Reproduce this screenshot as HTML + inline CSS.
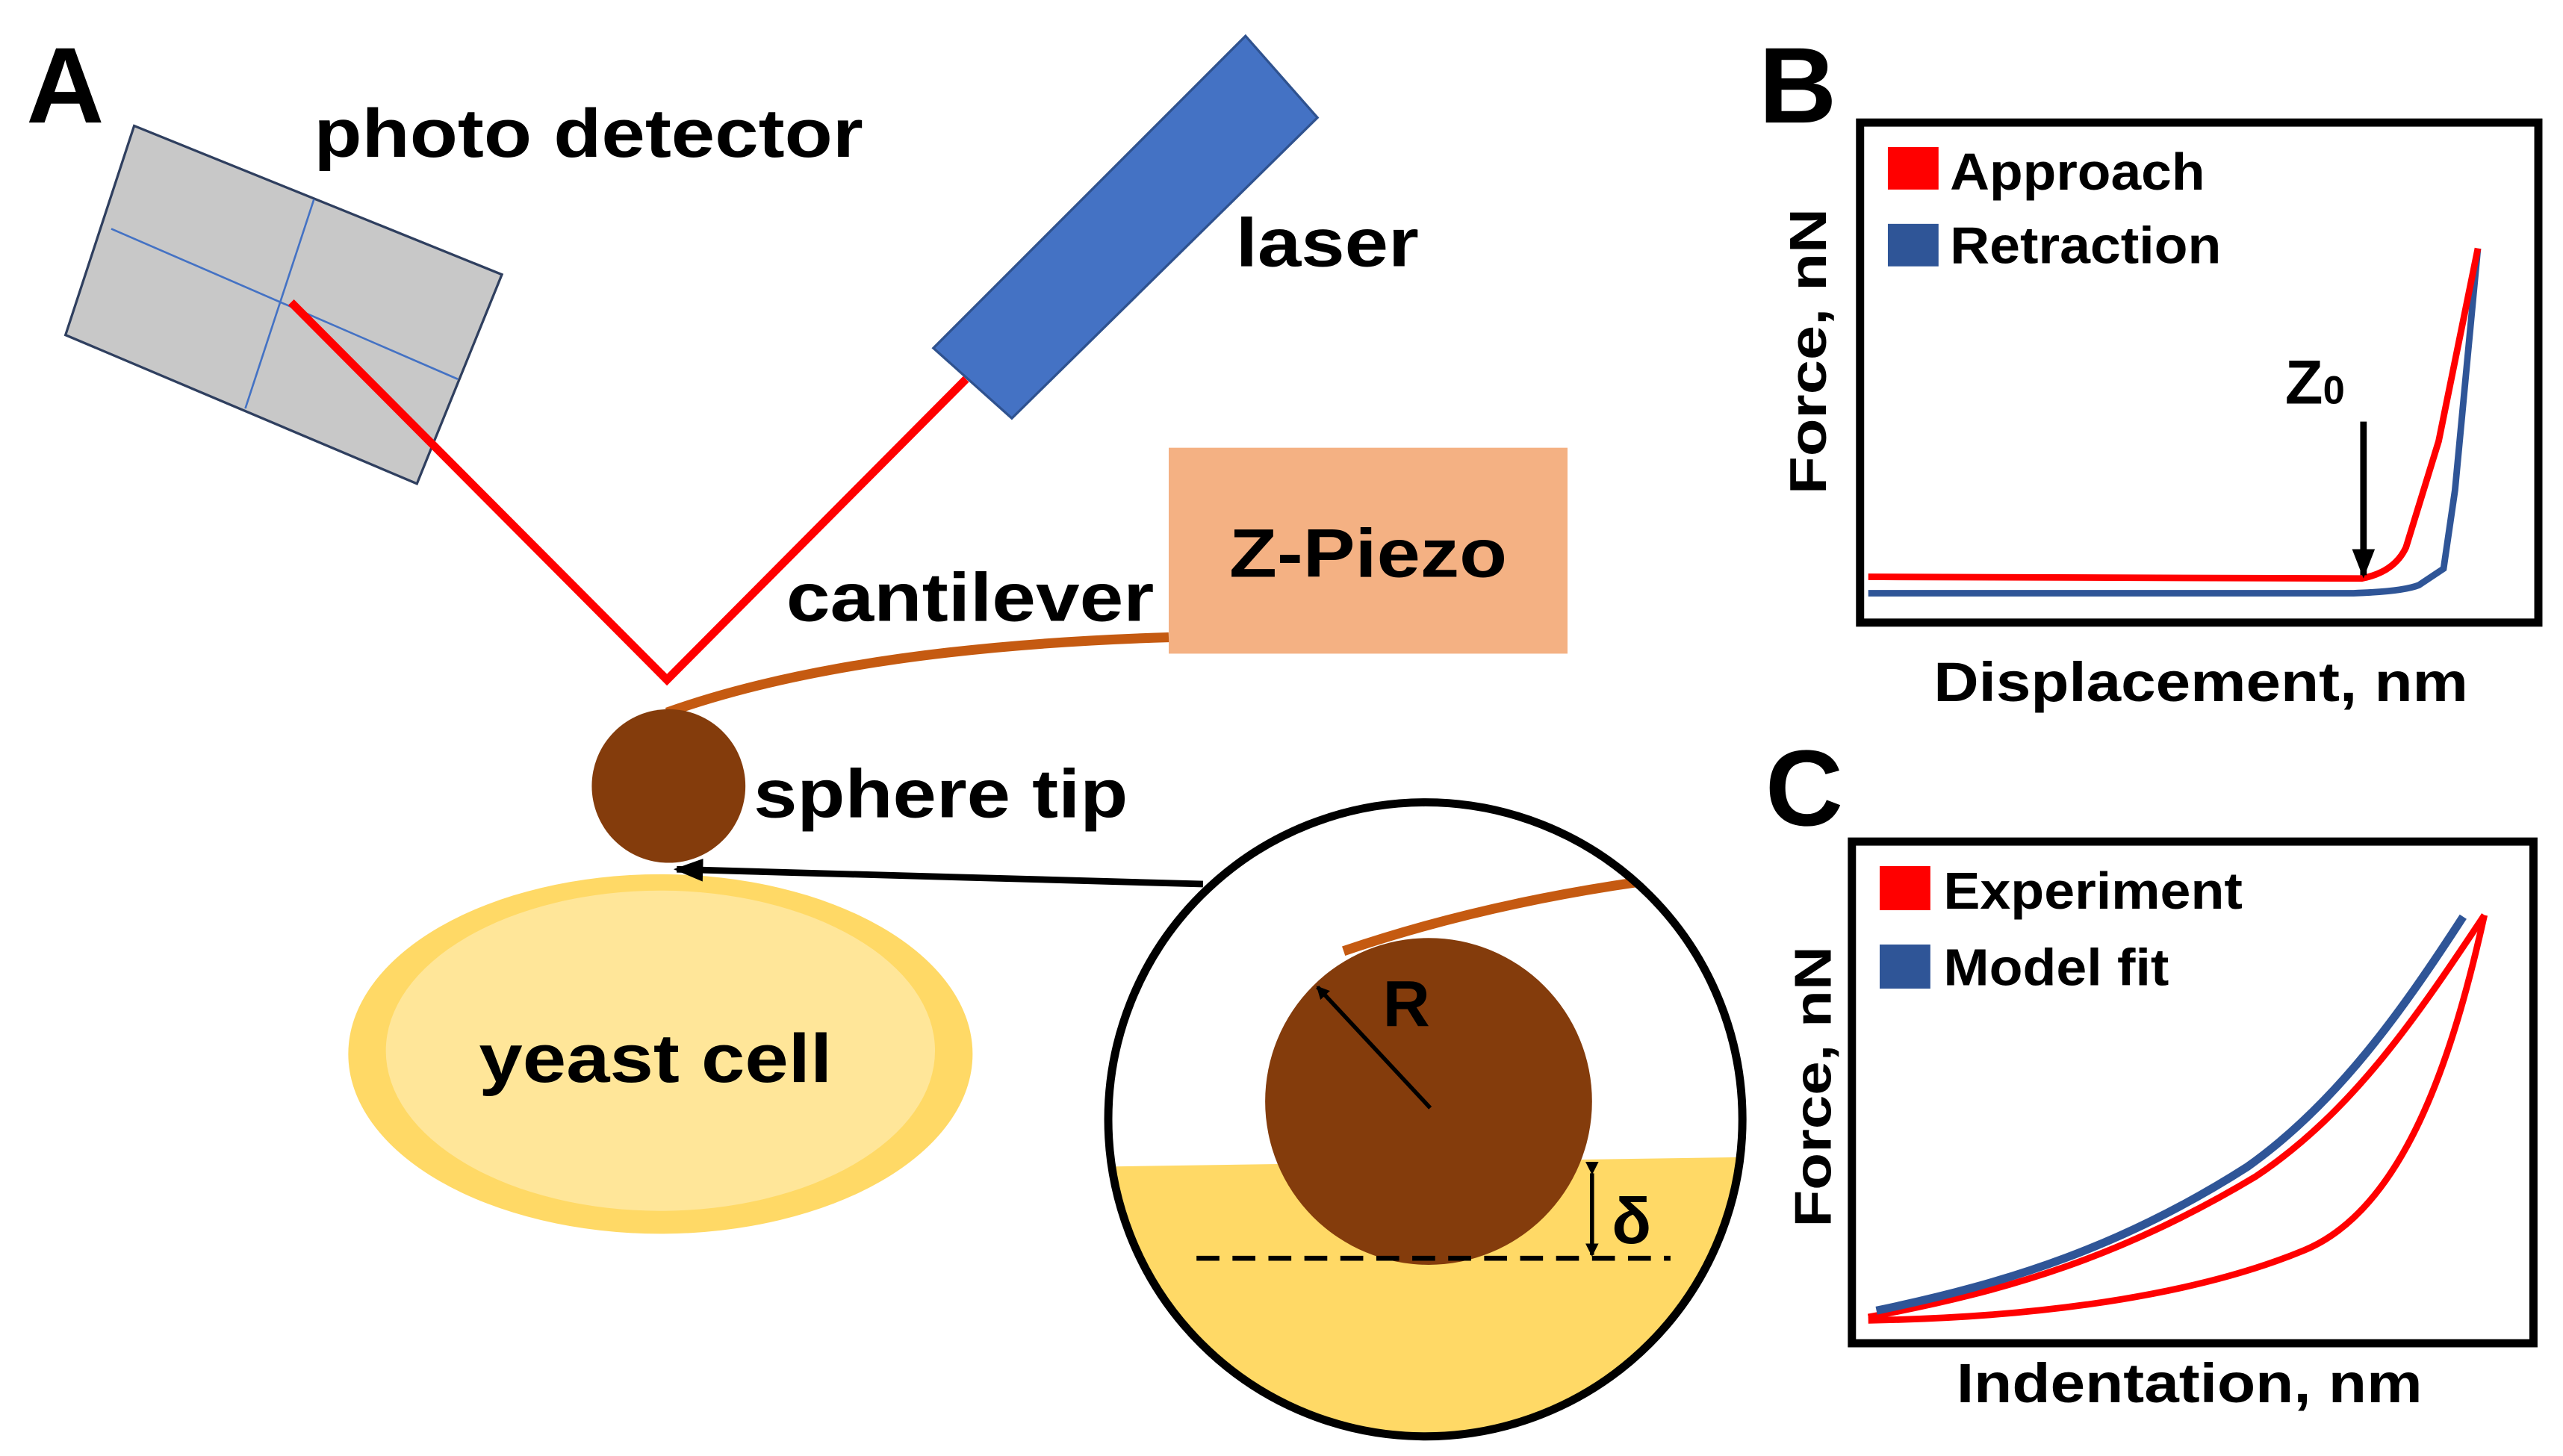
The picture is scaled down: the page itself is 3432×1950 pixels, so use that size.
<!DOCTYPE html>
<html><head><meta charset="utf-8"><style>
html,body{margin:0;padding:0;background:#fff;}
svg{display:block;}
text{font-family:"Liberation Sans",Arial,sans-serif;font-weight:bold;fill:#000;}
</style></head><body>
<svg width="3432" height="1950" viewBox="0 0 1568 891" xmlns="http://www.w3.org/2000/svg">
<defs>
<marker id="ah2" markerWidth="18" markerHeight="14" refX="16" refY="7" orient="auto" markerUnits="userSpaceOnUse"><path d="M0,0 L18,7 L0,14 z" fill="#000"/></marker>
<marker id="ahs" markerWidth="8" markerHeight="8" refX="7" refY="4" orient="auto" markerUnits="userSpaceOnUse"><path d="M0,0 L8,4 L0,8 z" fill="#000"/></marker>
<clipPath id="cc"><circle cx="872" cy="685" r="193"/></clipPath>
</defs>
<text x="16" y="75" font-size="66">A</text>
<polygon points="82,77 307,168 255,296 40,205" fill="#C8C8C8" stroke="#2F3F5F" stroke-width="1.5"/>
<line x1="68" y1="140" x2="280" y2="232" stroke="#4472C4" stroke-width="1.2"/>
<line x1="192" y1="122" x2="150" y2="250" stroke="#4472C4" stroke-width="1.2"/>
<text x="192" y="96" font-size="42" textLength="336" lengthAdjust="spacingAndGlyphs">photo detector</text>
<polygon points="762,22 806,72 619,256 571,213" fill="#4472C4" stroke="#2F528F" stroke-width="1.5"/>
<text x="756" y="163" font-size="42" textLength="112" lengthAdjust="spacingAndGlyphs">laser</text>
<polyline points="178,185 408,416 591,232" fill="none" stroke="#FF0000" stroke-width="5"/>
<rect x="715" y="274" width="244" height="126" fill="#F4B183"/>
<text x="752" y="353" font-size="42" textLength="170" lengthAdjust="spacingAndGlyphs">Z-Piezo</text>
<text x="481" y="380" font-size="42" textLength="225" lengthAdjust="spacingAndGlyphs">cantilever</text>
<path d="M408,436 Q520,396 715,390" fill="none" stroke="#C55A11" stroke-width="6"/>
<circle cx="409" cy="481" r="47" fill="#843C0C"/>
<text x="461" y="500" font-size="42" textLength="229" lengthAdjust="spacingAndGlyphs">sphere tip</text>
<ellipse cx="404" cy="645" rx="191" ry="110" fill="#FFD966"/>
<ellipse cx="404" cy="643" rx="168" ry="98" fill="#FFE699"/>
<text x="293" y="662" font-size="42" textLength="216" lengthAdjust="spacingAndGlyphs">yeast cell</text>
<line x1="736" y1="541" x2="414" y2="532" stroke="#000" stroke-width="4" marker-end="url(#ah2)"/>
<g clip-path="url(#cc)">
<polygon points="670,714 1075,708 1075,900 670,900" fill="#FFD966"/>
<path d="M822,582 Q910,552 1015,538" fill="none" stroke="#C55A11" stroke-width="6"/>
<circle cx="874" cy="674" r="100" fill="#843C0C"/>
</g>
<circle cx="872" cy="685" r="194" fill="none" stroke="#000" stroke-width="5"/>
<line x1="875" y1="678" x2="806" y2="604" stroke="#000" stroke-width="2.5" marker-end="url(#ahs)"/>
<text x="846" y="628" font-size="40">R</text>
<line x1="732" y1="770" x2="1022" y2="770" stroke="#000" stroke-width="3" stroke-dasharray="14,8"/>
<line x1="974" y1="718" x2="974" y2="768" stroke="#000" stroke-width="2.5" marker-start="url(#ahs)" marker-end="url(#ahs)"/>
<text x="986" y="761" font-size="40">δ</text>
<text x="1076" y="75" font-size="66">B</text>
<rect x="1138" y="75" width="415" height="306" fill="none" stroke="#000" stroke-width="5"/>
<rect x="1155" y="90" width="31" height="26" fill="#FF0000"/>
<rect x="1155" y="137" width="31" height="26" fill="#2F5597"/>
<text x="1193" y="116" font-size="32" textLength="156" lengthAdjust="spacingAndGlyphs">Approach</text>
<text x="1193" y="161" font-size="32" textLength="166" lengthAdjust="spacingAndGlyphs">Retraction</text>
<text transform="translate(1117,215) rotate(-90)" font-size="32" text-anchor="middle" textLength="175" lengthAdjust="spacingAndGlyphs">Force, nN</text>
<text x="1183" y="429" font-size="34" textLength="327" lengthAdjust="spacingAndGlyphs">Displacement, nm</text>
<path d="M1143,363 L1440,363 Q1470,362 1480,358 L1495,348 L1502,300 L1516,152" fill="none" stroke="#2F5597" stroke-width="4"/>
<path d="M1143,353 L1445,354 Q1465,350 1472,335 L1492,270 L1516,152" fill="none" stroke="#FF0000" stroke-width="4"/>
<text x="1398" y="247" font-size="38">Z<tspan font-size="24">0</tspan></text>
<line x1="1446" y1="258" x2="1446" y2="352" stroke="#000" stroke-width="4" marker-end="url(#ah2)"/>
<text x="1080" y="505" font-size="66">C</text>
<rect x="1133" y="515" width="417" height="307" fill="none" stroke="#000" stroke-width="5"/>
<rect x="1150" y="530" width="31" height="27" fill="#FF0000"/>
<rect x="1150" y="578" width="31" height="27" fill="#2F5597"/>
<text x="1189" y="556" font-size="32" textLength="183" lengthAdjust="spacingAndGlyphs">Experiment</text>
<text x="1189" y="603" font-size="32" textLength="138" lengthAdjust="spacingAndGlyphs">Model fit</text>
<text transform="translate(1120,665) rotate(-90)" font-size="32" text-anchor="middle" textLength="172" lengthAdjust="spacingAndGlyphs">Force, nN</text>
<text x="1197" y="858" font-size="34" textLength="285" lengthAdjust="spacingAndGlyphs">Indentation, nm</text>
<path d="M1520,560 C1500,650 1470,740 1410,765 C1350,790 1260,806 1143,808" fill="none" stroke="#FF0000" stroke-width="4"/>
<path d="M1143,806 C1230,790 1300,768 1380,720 C1440,680 1480,620 1520,560" fill="none" stroke="#FF0000" stroke-width="4"/>
<path d="M1148,802 C1230,785 1300,762 1375,714 C1430,675 1470,618 1507,561" fill="none" stroke="#2F5597" stroke-width="5"/>
</svg>
</body></html>
